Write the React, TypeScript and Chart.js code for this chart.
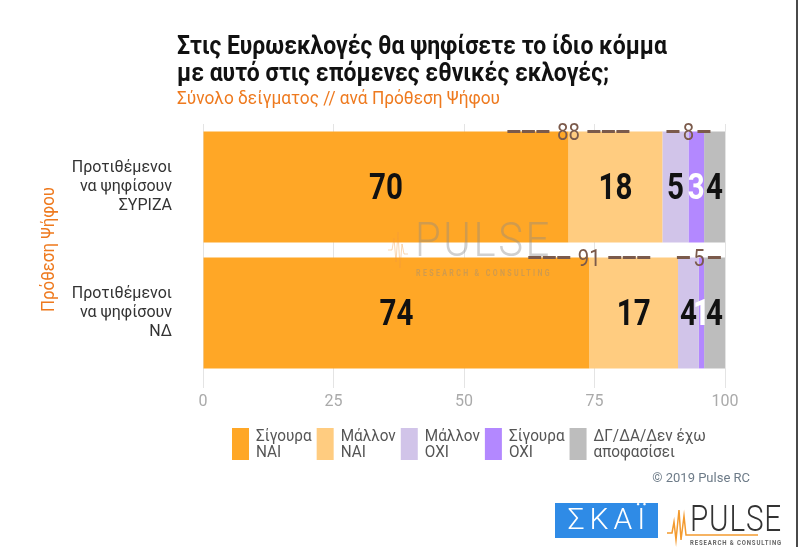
import React, { useEffect, useRef } from "react";
import { Chart, registerables } from "chart.js";

Chart.register(...registerables);

const titleLines = ["Στις Ευρωεκλογές θα ψηφίσετε το ίδιο κόμμα", "με αυτό στις επόμενες εθνικές εκλογές;"];
const subtitle = "Σύνολο δείγματος // ανά Πρόθεση Ψήφου";
const yTitle = "Πρόθεση Ψήφου";
const categories = [
  ["Προτιθέμενοι", "να ψηφίσουν", "ΣΥΡΙΖΑ"],
  ["Προτιθέμενοι", "να ψηφίσουν", "ΝΔ"],
];
const seriesNames = [
  ["Σίγουρα", "ΝΑΙ"],
  ["Μάλλον", "ΝΑΙ"],
  ["Μάλλον", "ΟΧΙ"],
  ["Σίγουρα", "ΟΧΙ"],
  ["ΔΓ/ΔΑ/Δεν έχω", "αποφασίσει"],
];
const sigouraNai = [70, 74];
const mallonNai = [18, 17];
const mallonOxi = [5, 4];
const sigouraOxi = [3, 1];
const dgda = [4, 4];
const totalNai = [88, 91];
const totalOxi = [8, 5];
const xTickValues = [0, 25, 50, 75, 100];
const colors = ["#FFA726", "#FFCC80", "#D1C4E9", "#B388FF", "#BDBDBD"];
const labelColors = ["#111111", "#111111", "#111111", "#ffffff", "#111111"];
const copyright = "© 2019 Pulse RC";

const FONT = "Roboto, 'Noto Sans', sans-serif";

function fitText(ctx: CanvasRenderingContext2D, text: string, x: number, y: number, maxW: number) {
  const w = ctx.measureText(text).width;
  const sx = w > maxW ? maxW / w : 1;
  ctx.save();
  ctx.translate(x, y);
  ctx.scale(sx, 1);
  ctx.fillText(text, 0, 0);
  ctx.restore();
}

function scaledText(ctx: CanvasRenderingContext2D, text: string, x: number, y: number, sx: number) {
  ctx.save();
  ctx.translate(x, y);
  ctx.scale(sx, 1);
  ctx.fillText(text, 0, 0);
  ctx.restore();
}

const decorPlugin = {
  id: "decor",
  afterDatasetsDraw(chart: any) {
    const ctx: CanvasRenderingContext2D = chart.ctx;
    const metas = [0, 1, 2, 3, 4].map((i) => chart.getDatasetMeta(i));

    // watermark
    ctx.save();
    ctx.globalAlpha = 0.4;
    ctx.fillStyle = "#8a8a8a";
    ctx.font = `300 48px ${FONT}`;
    ctx.textAlign = "left";
    ctx.textBaseline = "alphabetic";
    (ctx as any).letterSpacing = "3px";
    fitText(ctx, "PULSE", 415, 256, 137);
    ctx.font = `bold 9px ${FONT}`;
    (ctx as any).letterSpacing = "3px";
    fitText(ctx, "RESEARCH & CONSULTING", 416, 276, 136);
    (ctx as any).letterSpacing = "0px";
    ctx.strokeStyle = "#f39c3c";
    ctx.lineWidth = 1;
    ctx.beginPath();
    const wave = [[388, 250], [392, 250], [394, 238], [396, 262], [398, 232], [400, 268], [402, 244], [404, 254], [408, 254]];
    wave.forEach(([px, py], i) => (i ? ctx.lineTo(px, py) : ctx.moveTo(px, py)));
    ctx.stroke();
    ctx.restore();

    // value labels
    ctx.save();
    ctx.textAlign = "center";
    ctx.textBaseline = "middle";
    ctx.font = `bold 36px ${FONT}`;
    metas.forEach((meta: any, di: number) => {
      meta.data.forEach((el: any, j: number) => {
        const p = el.getProps(["x", "y", "base", "height"], true);
        const v = chart.data.datasets[di].data[j];
        ctx.fillStyle = labelColors[di];
        scaledText(ctx, String(v), (p.x + p.base) / 2, p.y + 3, 0.82);
      });
    });
    ctx.restore();

    // totals with dashes
    const brown = "#7b5a4b";
    const drawTotal = (text: string, cx: number, y: number, inner: number, outer: number) => {
      ctx.save();
      ctx.strokeStyle = brown;
      ctx.lineWidth = 3;
      ctx.setLineDash([13, 1.5]);
      ctx.beginPath();
      ctx.moveTo(cx - outer, y);
      ctx.lineTo(cx - inner, y);
      ctx.moveTo(cx + inner, y);
      ctx.lineTo(cx + outer, y);
      ctx.stroke();
      ctx.setLineDash([]);
      ctx.fillStyle = brown;
      ctx.font = `24px ${FONT}`;
      ctx.textAlign = "center";
      ctx.textBaseline = "middle";
      scaledText(ctx, text, cx, y + 2, 0.85);
      ctx.restore();
    };
    metas[0].data.forEach((el: any, j: number) => {
      const p = el.getProps(["x", "y", "height"], true);
      drawTotal(String(totalNai[j]), p.x, p.y - p.height / 2, 19, 61);
    });
    metas[2].data.forEach((el: any, j: number) => {
      const p = el.getProps(["x", "y", "height"], true);
      drawTotal(String(totalOxi[j]), p.x, p.y - p.height / 2, 9, 22);
    });
  },
  afterDraw(chart: any) {
    const ctx: CanvasRenderingContext2D = chart.ctx;
    ctx.save();
    // title
    ctx.fillStyle = "#111111";
    ctx.textAlign = "left";
    ctx.textBaseline = "alphabetic";
    ctx.font = `bold 26px ${FONT}`;
    fitText(ctx, titleLines[0], 177, 54, 490);
    fitText(ctx, titleLines[1], 177, 81, 432);
    ctx.fillStyle = "#EE7A1F";
    ctx.font = `18px ${FONT}`;
    fitText(ctx, subtitle, 177, 104, 323);

    // y title
    ctx.save();
    ctx.translate(54, 250);
    ctx.rotate(-Math.PI / 2);
    ctx.textAlign = "left";
    ctx.textBaseline = "alphabetic";
    ctx.font = `19px ${FONT}`;
    ctx.fillStyle = "#EE7A1F";
    fitText(ctx, yTitle, -62, 0, 125);
    ctx.restore();

    // legend
    let lx = 232;
    const lsx = 0.9;
    ctx.font = `17px ${FONT}`;
    seriesNames.forEach((lines, i) => {
      ctx.fillStyle = colors[i];
      ctx.fillRect(lx, 428, 17, 32);
      ctx.fillStyle = "#555555";
      ctx.textBaseline = "middle";
      ctx.textAlign = "left";
      const tx = lx + 24;
      let maxW = 0;
      lines.forEach((t, k) => {
        scaledText(ctx, t, tx, 437 + k * 16, lsx);
        maxW = Math.max(maxW, ctx.measureText(t).width * lsx);
      });
      lx = tx + maxW + 5;
    });

    // copyright
    ctx.font = `13px ${FONT}`;
    ctx.fillStyle = "#6d7b88";
    ctx.textAlign = "right";
    ctx.fillText(copyright, 750, 479);

    // SKAI logo
    ctx.fillStyle = "#2F8BE6";
    ctx.fillRect(555, 503, 103, 35);
    ctx.fillStyle = "#ffffff";
    ctx.font = `300 30px ${FONT}`;
    ctx.textAlign = "center";
    (ctx as any).letterSpacing = "5px";
    ctx.fillText("ΣΚΑΪ", 609, 521);
    (ctx as any).letterSpacing = "0px";

    // PULSE logo
    ctx.fillStyle = "#333333";
    ctx.font = `300 36px ${FONT}`;
    ctx.textAlign = "left";
    ctx.textBaseline = "alphabetic";
    (ctx as any).letterSpacing = "1px";
    fitText(ctx, "PULSE", 690, 531, 92);
    ctx.font = `bold 7px ${FONT}`;
    ctx.fillStyle = "#666666";
    fitText(ctx, "RESEARCH & CONSULTING", 690, 545, 92);
    (ctx as any).letterSpacing = "0px";
    ctx.strokeStyle = "#F39A2E";
    ctx.lineWidth = 1.5;
    ctx.beginPath();
    ctx.moveTo(690, 535);
    ctx.lineTo(758, 535);
    ctx.stroke();
    ctx.beginPath();
    const w2 = [[667, 533], [672, 533], [674, 522], [676, 540], [679, 510], [681, 540], [684, 516], [686, 535], [690, 535]];
    w2.forEach(([px, py], i) => (i ? ctx.lineTo(px, py) : ctx.moveTo(px, py)));
    ctx.stroke();

    // right border
    ctx.fillStyle = "#4a4a4a";
    ctx.fillRect(796, 0, 2, 547);
    ctx.restore();
  },
};

export default function App() {
  const ref = useRef<HTMLCanvasElement | null>(null);
  useEffect(() => {
    const canvas = ref.current!;
    const chart = new Chart(canvas, {
      type: "bar",
      data: {
        labels: categories,
        datasets: [sigouraNai, mallonNai, mallonOxi, sigouraOxi, dgda].map((d, i) => ({
          label: seriesNames[i].join(" "),
          data: d,
          backgroundColor: colors[i],
          borderWidth: 0,
          categoryPercentage: 1,
          barPercentage: 0.88,
        })),
      },
      options: {
        indexAxis: "y",
        animation: false,
        responsive: false,
        maintainAspectRatio: false,
        layout: { padding: { top: 124, right: 75, bottom: 131, left: 0 } },
        plugins: {
          legend: { display: false },
          title: { display: false },
          tooltip: { enabled: false },
        },
        scales: {
          x: {
            stacked: true,
            min: 0,
            max: 100,
            afterBuildTicks: (s: any) => {
              s.ticks = xTickValues.map((v) => ({ value: v }));
            },
            afterFit: (s: any) => {
              s.height = 40;
            },
            grid: { color: "#e4e4e4", tickLength: 12, drawTicks: true, lineWidth: 1 },
            border: { display: false },
            ticks: { color: "#aaaaaa", font: { family: FONT, size: 16 }, padding: 4 },
          },
          y: {
            stacked: true,
            afterFit: (s: any) => {
              s.width = 203;
            },
            grid: { display: false, drawTicks: false },
            border: { display: false },
            ticks: { color: "#333333", font: { family: FONT, size: 16, lineHeight: 1.2 }, padding: 31 },
          },
        },
      },
      plugins: [decorPlugin],
    } as any);
    return () => chart.destroy();
  }, []);
  return (
    <div style={{ position: "absolute", left: 0, top: 0, width: 800, height: 547, background: "#fff" }}>
      <canvas ref={ref} width={800} height={547} style={{ display: "block", width: 800, height: 547 }} />
    </div>
  );
}
